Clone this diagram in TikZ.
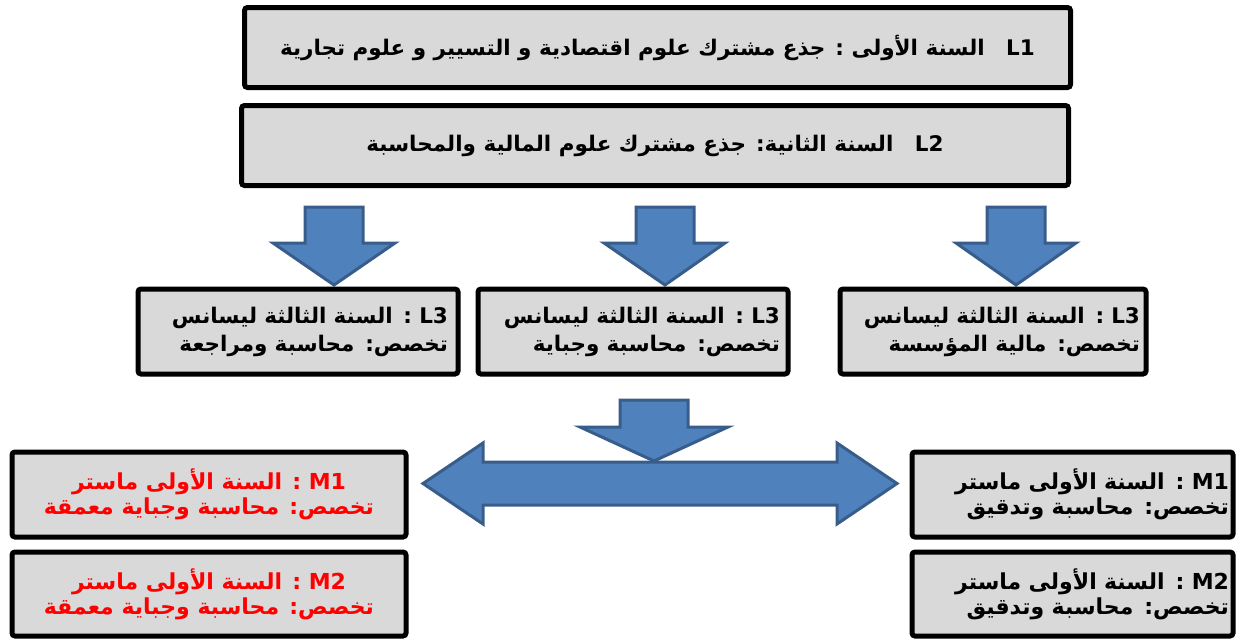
\documentclass[tikz,border=0pt]{standalone}
\usepackage{fontspec}
\newfontfamily\arabicfont[Script=Arabic]{DejaVu Sans}
\TeXXeTstate=1
\definecolor{boxgray}{HTML}{D9D9D9}
\definecolor{arrowfill}{HTML}{4F81BD}
\definecolor{arrowline}{HTML}{385D8A}
\tikzset{
  yearbox/.style={draw=black, line width=5pt, fill=boxgray, rounded corners=3pt},
  blockarrow/.style={fill=arrowfill, draw=arrowline, line width=3pt},
}
\newcommand{\arfont}[2]{\arabicfont\bfseries\fontsize{#1}{#2}\selectfont}

\begin{document}
\begin{tikzpicture}
[x=1pt, y=-1pt, every node/.style={inner sep=0pt}]
\useasboundingbox (0,0) rectangle (1239,641);
% first and second year
\node (L1) [yearbox, minimum width=826pt, minimum height=80pt, font=\arfont{21.5}{26}] at (657.5,47.5) {\beginR\beginL L1\endL\quad السنة الأولى : جذع مشترك علوم اقتصادية و التسيير و علوم تجارية\endR};
\node (L2) [yearbox, minimum width=827pt, minimum height=80pt, font=\arfont{21.5}{26}] at (655,145.5) {\beginR\beginL L2\endL\quad السنة الثانية:  جذع مشترك  علوم المالية والمحاسبة\endR};
% down arrows
\draw [blockarrow] (305,207) -- (363,207) -- (363,243) -- (395,243) -- (334,285) -- (273,243) -- (305,243) -- cycle;
\draw [blockarrow] (636,207) -- (694,207) -- (694,243) -- (725,243) -- (665,285) -- (604,243) -- (636,243) -- cycle;
\draw [blockarrow] (987,207) -- (1045,207) -- (1045,243) -- (1076,243) -- (1016,285) -- (956,243) -- (987,243) -- cycle;
% third year
\node (L3a) [yearbox, minimum width=320pt, minimum height=85pt, font=\arfont{21.5}{28}, text width=300pt, align=right] at (298,331.5)
  {\beginR\beginL L3\endL{} : السنة الثالثة  ليسانس\endR\\\beginR تخصص: محاسبة ومراجعة\endR};
\node (L3b) [yearbox, minimum width=310pt, minimum height=85pt, font=\arfont{21.5}{28}, text width=294pt, align=right] at (633,331.5)
  {\beginR\beginL L3\endL{} : السنة الثالثة  ليسانس\endR\\\beginR تخصص: محاسبة  وجباية\endR};
\node (L3c) [yearbox, minimum width=306pt, minimum height=85pt, font=\arfont{21.5}{28}, text width=294pt, align=right] at (993,331.5)
  {\beginR\beginL L3\endL{} : السنة الثالثة  ليسانس\endR\\\beginR تخصص: مالية المؤسسة\endR};
% towards the master
\draw [blockarrow] (620,400) -- (688,400) -- (688,427) -- (728,427) -- (654,461) -- (580,427) -- (620,427) -- cycle;
\draw [blockarrow] (423,483.5) -- (483,443) -- (483,462) -- (837,462) -- (837,443) -- (897,483.5) -- (837,524) -- (837,505) -- (483,505) -- (483,524) -- cycle;
% master, left
\node (M1a) [yearbox, minimum width=394pt, minimum height=85pt, font=\arfont{22}{25}, text=red, align=center] at (209,494.5)
  {\beginR\beginL M1\endL{} : السنة الأولى ماستر\endR\\\beginR تخصص: محاسبة  وجباية معمقة\endR};
\node (M2a) [yearbox, minimum width=394pt, minimum height=84pt, font=\arfont{22}{25}, text=red, align=center] at (209,594)
  {\beginR\beginL M2\endL{} : السنة الأولى ماستر\endR\\\beginR تخصص: محاسبة  وجباية معمقة\endR};
% master, right
\node (M1b) [yearbox, minimum width=321pt, minimum height=85pt, font=\arfont{22}{25}, text width=313pt, align=right] at (1072.5,494.5)
  {\beginR\beginL M1\endL{} : السنة الأولى ماستر\endR\\\beginR تخصص: محاسبة  وتدقيق\endR};
\node (M2b) [yearbox, minimum width=321pt, minimum height=84pt, font=\arfont{22}{25}, text width=313pt, align=right] at (1072.5,594)
  {\beginR\beginL M2\endL{} : السنة الأولى ماستر\endR\\\beginR تخصص: محاسبة  وتدقيق\endR};
\end{tikzpicture}
\end{document}
